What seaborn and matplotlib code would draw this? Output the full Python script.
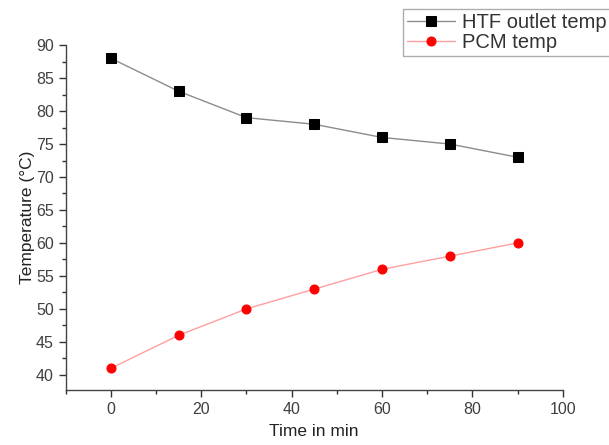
import matplotlib
matplotlib.use("Agg")
import matplotlib.pyplot as plt
import seaborn as sns
import pandas as pd
from matplotlib.ticker import MultipleLocator

time_min = [0, 15, 30, 45, 60, 75, 90]
htf_outlet = [88, 83, 79, 78, 76, 75, 73]
pcm_temp = [41, 46, 50, 53, 56, 58, 60]
series_names = ["HTF outlet temp", "PCM temp"]

sns.set_theme(style="ticks")
plt.rcParams['font.family'] = ['Liberation Sans', 'DejaVu Sans']

df = pd.DataFrame({
    "Time": time_min * 2,
    "Temp": htf_outlet + pcm_temp,
    "Series": [series_names[0]] * len(time_min) + [series_names[1]] * len(time_min),
})

fig = plt.figure(figsize=(6.09, 4.45), dpi=100)
ax = fig.add_axes([0.108, 0.1236, 0.816, 0.775])

sns.lineplot(data=df[df.Series == series_names[0]], x="Time", y="Temp", ax=ax,
             color="#8c8c8c", linewidth=1.0, marker="s", markersize=6.5,
             markerfacecolor="black", markeredgecolor="black",
             label=series_names[0])
sns.lineplot(data=df[df.Series == series_names[1]], x="Time", y="Temp", ax=ax,
             color="#ff9f9f", linewidth=1.0, marker="o", markersize=6.5,
             markerfacecolor="#ff0000", markeredgecolor="#ff0000",
             label=series_names[1])

ax.set_xlim(-10, 100)
ax.set_ylim(37.7, 90)
ax.xaxis.set_major_locator(MultipleLocator(20))
ax.xaxis.set_minor_locator(MultipleLocator(10))
ax.yaxis.set_major_locator(MultipleLocator(5))
ax.yaxis.set_minor_locator(MultipleLocator(2.5))
ax.tick_params(axis="both", which="major", length=5, width=1, colors="#333333",
               labelsize=11.5, labelcolor="#404040")
ax.tick_params(axis="both", which="minor", length=3, width=1, colors="#333333")
for s in ["top", "right"]:
    ax.spines[s].set_visible(False)
for s in ["left", "bottom"]:
    ax.spines[s].set_color("#444444")
    ax.spines[s].set_linewidth(1.0)

ax.set_xlabel("Time in min", fontsize=12.5, color="#222222", labelpad=5)
ax.set_ylabel("Temperature (°C)", fontsize=12.5, color="#222222", labelpad=1)

ax.legend_.remove()
handles, labels = ax.get_legend_handles_labels()
leg = fig.legend(handles, labels, loc="upper left", bbox_to_anchor=(0.661, 0.98),
                 fontsize=14.5, frameon=True, fancybox=False, edgecolor="#999999",
                 handlelength=2.4, borderpad=0.2, labelspacing=0.05,
                 handletextpad=0.35, borderaxespad=0)
leg.get_frame().set_linewidth(1.0)
for t in leg.get_texts():
    t.set_color("#333333")

fig.savefig("out.png", dpi=100)
